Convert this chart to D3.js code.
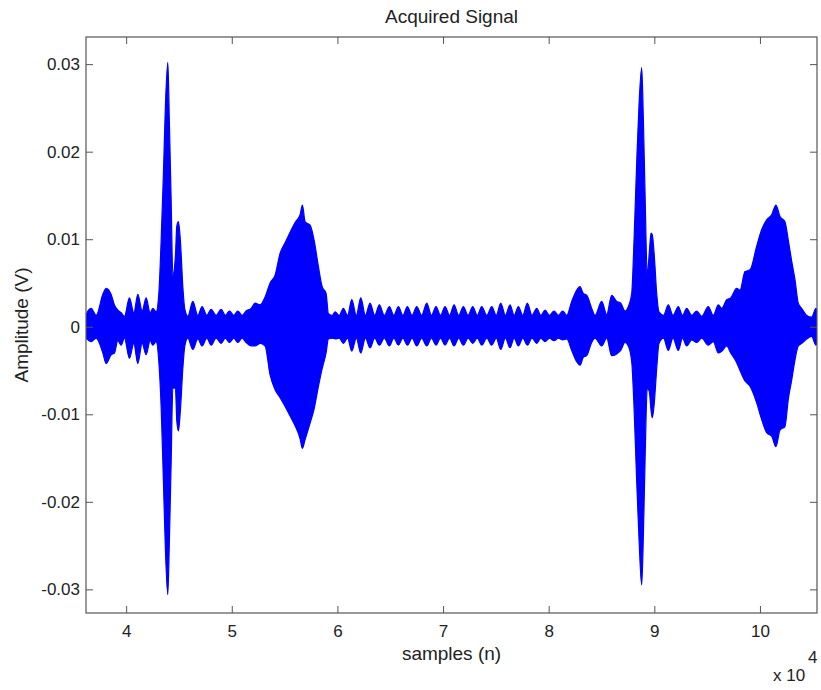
<!DOCTYPE html>
<html>
<head>
<meta charset="utf-8">
<script src="https://cdn.jsdelivr.net/npm/d3@7"></script>
<style>
  body { margin: 0; background: #fff; }
  text { font-family: "Liberation Sans", Arial, Helvetica, sans-serif; fill: #222; }
  .axis path { display: none; }
  .axis line { stroke: #555; }
  .axis text { font-size: 17px; }
</style>
</head>
<body>
<script>
// envelope of the acquired signal (sample index, max / min amplitude in V)
var sampleN = [36200, 36375, 36688, 37161, 37795, 38107, 38580, 38893, 39214, 39527, 39839, 40312, 40729, 41107, 41514, 41893, 42271, 42527, 42839,
  43095, 43312, 43530, 43719, 43946, 44098, 44259, 44420, 44665, 44797, 44949, 45138, 45366, 45555,
  45839, 46312, 46785, 47193, 47637, 48044, 48518, 48991, 49398, 49777, 50193, 50572, 50978, 51357, 51830,
  52209, 52682, 53155, 53628, 54101, 54575, 55048, 55521, 55994, 56467, 56685, 56941, 57414, 57792, 58171, 58549, 58928, 59146,
  59520, 59780, 60170, 60565, 60960, 61360, 61790, 62212, 62650, 63092, 63530, 63972, 64440, 64919, 65340, 65771, 66200, 66622,
  67070, 67512, 67980, 68458, 68900, 69338, 69760, 70190, 70620, 71042, 71480, 71922, 72370, 72812, 73240, 73663, 74140, 74610,
  75040, 75462, 75900, 76342, 76730, 77128, 77550, 77980, 78420, 78869, 79260, 79654, 80080, 80506, 80920, 81329,
  81708, 82181, 82654, 82966, 83279, 83600, 84073, 84386, 85020, 85493, 85966, 86440, 86818, 87225, 87537,
  87859, 88077, 88333, 88550, 88806, 88957, 89118, 89336, 89525, 89686, 89809, 89998, 90225, 90443,
  90869, 91324, 91768, 92270, 92667, 93065, 93538, 94011, 94484, 95109, 95582, 96056, 96378, 96851, 97229, 97797, 98110,
  98583, 99056, 99690, 100163, 100636, 101109, 101517, 101895, 102368, 102681, 103003, 103315, 103627, 103949, 104422, 104895, 105302, 105400];

var ampMax = [0.0013, 0.0018, 0.0021, 0.0013, 0.0037, 0.0044, 0.0037, 0.0025, 0.0019, 0.0016, 0.0012, 0.0033, 0.0016, 0.0037, 0.0018, 0.0033, 0.0016, 0.0021, 0.0017,
  0.0038, 0.0098, 0.0175, 0.0253, 0.0302, 0.0231, 0.0145, 0.0059, 0.0081, 0.0115, 0.0120, 0.0098, 0.0046, 0.0020,
  0.0012, 0.0029, 0.0013, 0.0023, 0.0013, 0.0020, 0.0013, 0.0020, 0.0013, 0.0018, 0.0013, 0.0018, 0.0013, 0.0018, 0.0021,
  0.0027, 0.0025, 0.0034, 0.0050, 0.0059, 0.0084, 0.0096, 0.0108, 0.0119, 0.0128, 0.0139, 0.0120, 0.0116, 0.0099, 0.0071, 0.0046, 0.0038, 0.0015,
  0.0013, 0.0017, 0.0013, 0.0021, 0.0013, 0.0031, 0.0013, 0.0033, 0.0013, 0.0027, 0.0013, 0.0025, 0.0013, 0.0023, 0.0013, 0.0023, 0.0013, 0.0023,
  0.0013, 0.0023, 0.0013, 0.0027, 0.0013, 0.0023, 0.0013, 0.0023, 0.0013, 0.0025, 0.0013, 0.0023, 0.0013, 0.0023, 0.0013, 0.0023, 0.0013, 0.0023,
  0.0013, 0.0027, 0.0013, 0.0025, 0.0013, 0.0023, 0.0013, 0.0027, 0.0013, 0.0021, 0.0013, 0.0019, 0.0013, 0.0018, 0.0013, 0.0018,
  0.0013, 0.0029, 0.0042, 0.0046, 0.0038, 0.0036, 0.0021, 0.0013, 0.0029, 0.0014, 0.0036, 0.0029, 0.0027, 0.0018, 0.0023,
  0.0038, 0.0098, 0.0188, 0.0253, 0.0296, 0.0240, 0.0154, 0.0059, 0.0085, 0.0107, 0.0105, 0.0081, 0.0038, 0.0017,
  0.0013, 0.0025, 0.0013, 0.0023, 0.0013, 0.0021, 0.0013, 0.0018, 0.0012, 0.0023, 0.0013, 0.0025, 0.0021, 0.0031, 0.0033, 0.0044, 0.0042,
  0.0063, 0.0065, 0.0092, 0.0111, 0.0122, 0.0128, 0.0139, 0.0126, 0.0120, 0.0099, 0.0075, 0.0054, 0.0027, 0.0021, 0.0013, 0.0011, 0.0021, 0.0018];

var ampMin = [-0.0013, -0.0015, -0.0017, -0.0013, -0.0030, -0.0042, -0.0032, -0.0030, -0.0016, -0.0021, -0.0013, -0.0036, -0.0019, -0.0042, -0.0019, -0.0032, -0.0016, -0.0021, -0.0017,
  -0.0040, -0.0091, -0.0177, -0.0255, -0.0306, -0.0242, -0.0156, -0.0070, -0.0070, -0.0108, -0.0119, -0.0095, -0.0048, -0.0022,
  -0.0013, -0.0026, -0.0014, -0.0022, -0.0013, -0.0021, -0.0013, -0.0019, -0.0013, -0.0018, -0.0013, -0.0018, -0.0013, -0.0018, -0.0022,
  -0.0022, -0.0019, -0.0022, -0.0055, -0.0072, -0.0081, -0.0091, -0.0102, -0.0113, -0.0128, -0.0139, -0.0129, -0.0110, -0.0094, -0.0070, -0.0048, -0.0030, -0.0014,
  -0.0013, -0.0014, -0.0013, -0.0019, -0.0013, -0.0028, -0.0013, -0.0030, -0.0013, -0.0024, -0.0013, -0.0021, -0.0013, -0.0022, -0.0013, -0.0021, -0.0013, -0.0021,
  -0.0013, -0.0022, -0.0013, -0.0022, -0.0013, -0.0021, -0.0013, -0.0021, -0.0013, -0.0022, -0.0013, -0.0021, -0.0013, -0.0019, -0.0013, -0.0021, -0.0013, -0.0021,
  -0.0013, -0.0026, -0.0013, -0.0024, -0.0013, -0.0022, -0.0013, -0.0021, -0.0013, -0.0019, -0.0013, -0.0017, -0.0013, -0.0016, -0.0013, -0.0015,
  -0.0014, -0.0027, -0.0040, -0.0044, -0.0035, -0.0033, -0.0018, -0.0013, -0.0022, -0.0013, -0.0033, -0.0031, -0.0027, -0.0018, -0.0022,
  -0.0040, -0.0091, -0.0177, -0.0242, -0.0295, -0.0242, -0.0156, -0.0070, -0.0074, -0.0095, -0.0104, -0.0087, -0.0048, -0.0019,
  -0.0013, -0.0027, -0.0013, -0.0027, -0.0013, -0.0022, -0.0015, -0.0018, -0.0013, -0.0021, -0.0017, -0.0030, -0.0028, -0.0022, -0.0030, -0.0041, -0.0050,
  -0.0062, -0.0068, -0.0087, -0.0106, -0.0121, -0.0125, -0.0137, -0.0118, -0.0114, -0.0083, -0.0061, -0.0038, -0.0022, -0.0019, -0.0014, -0.0011, -0.0021, -0.0018];

var xTicks = [40000, 50000, 60000, 70000, 80000, 90000, 100000];
var yTicks = [-0.03, -0.02, -0.01, 0, 0.01, 0.02, 0.03];

var signal = sampleN.map(function(n, i) { return {n: n, hi: ampMax[i], lo: ampMin[i]}; });

var W = 821, H = 690;
var plotL = 86, plotR = 817, plotT = 37, plotB = 613;

var x = d3.scaleLinear().domain([36200, 105400]).range([plotL, plotR]);
var y = d3.scaleLinear().domain([-0.0327, 0.0331]).range([plotB, plotT]);

var svg = d3.select("body").append("svg")
    .attr("width", W)
    .attr("height", H);

svg.append("clipPath").attr("id", "plotclip")
  .append("rect")
    .attr("x", plotL).attr("y", plotT)
    .attr("width", plotR - plotL).attr("height", plotB - plotT);

var area = d3.area()
    .curve(d3.curveMonotoneX)
    .x(function(d) { return x(d.n); })
    .y0(function(d) { return y(d.lo); })
    .y1(function(d) { return y(d.hi); });

svg.append("path")
    .datum(signal)
    .attr("clip-path", "url(#plotclip)")
    .attr("d", area)
    .attr("fill", "#0000ff")
    .attr("stroke", "#0000ff")
    .attr("stroke-width", 1.2)
    .attr("stroke-linejoin", "round");

// axes, ticks pointing inward on all four sides (matlab box)
svg.append("g").attr("class", "axis")
    .attr("transform", "translate(0," + plotB + ")")
    .call(d3.axisBottom(x).tickValues(xTicks).tickSize(-7).tickPadding(12)
      .tickFormat(function(d) { return d / 10000; }));

svg.append("g").attr("class", "axis")
    .attr("transform", "translate(0," + plotT + ")")
    .call(d3.axisTop(x).tickValues(xTicks).tickSize(-7).tickFormat(""));

svg.append("g").attr("class", "axis")
    .attr("transform", "translate(" + plotL + ",0)")
    .call(d3.axisLeft(y).tickValues(yTicks).tickSize(-7).tickPadding(6)
      .tickFormat(function(d) { return d === 0 ? "0" : d3.format(".2f")(d).replace("\u2212", "-"); }));

svg.append("g").attr("class", "axis")
    .attr("transform", "translate(" + plotR + ",0)")
    .call(d3.axisRight(y).tickValues(yTicks).tickSize(-7).tickFormat(""));

svg.append("rect")
    .attr("x", plotL).attr("y", plotT)
    .attr("width", plotR - plotL).attr("height", plotB - plotT)
    .attr("fill", "none")
    .attr("stroke", "#555")
    .attr("stroke-width", 1.2);

svg.append("text")
    .attr("x", (plotL + plotR) / 2).attr("y", 23)
    .attr("text-anchor", "middle")
    .style("font-size", "19px")
    .text("Acquired Signal");

svg.append("text")
    .attr("x", (plotL + plotR) / 2).attr("y", 660)
    .attr("text-anchor", "middle")
    .style("font-size", "19px")
    .text("samples (n)");

svg.append("text")
    .attr("transform", "translate(28," + (plotT + plotB) / 2 + ") rotate(-90)")
    .attr("text-anchor", "middle")
    .style("font-size", "19px")
    .text("Amplitude (V)");

// exponent label under the x axis
svg.append("text")
    .attr("x", 773).attr("y", 681)
    .style("font-size", "17px")
    .text("x 10");
svg.append("text")
    .attr("x", 808).attr("y", 663)
    .style("font-size", "17px")
    .text("4");
</script>
</body>
</html>
